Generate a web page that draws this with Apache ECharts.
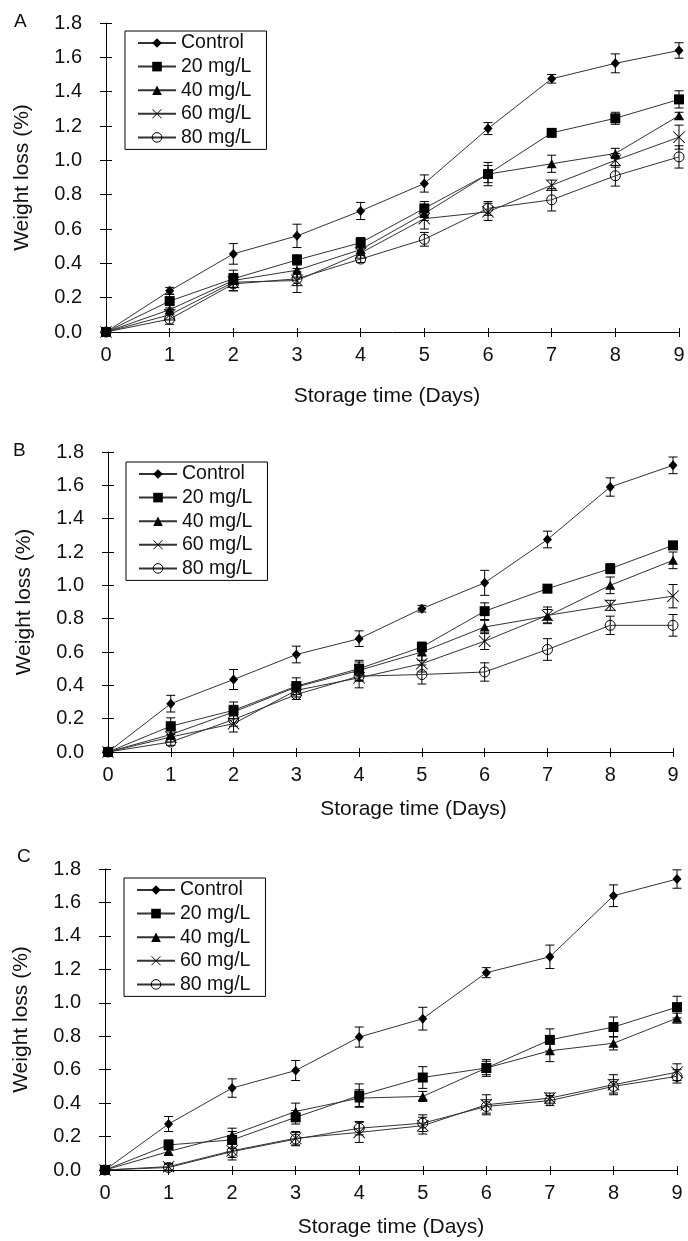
<!DOCTYPE html>
<html>
<head>
<meta charset="utf-8">
<title>Weight loss during storage</title>
<script src="https://cdn.jsdelivr.net/npm/echarts@6/dist/echarts.min.js"></script>
<style>
  html, body { margin: 0; padding: 0; background: #ffffff; }
  #chart { width: 688px; height: 1241px; }
</style>
</head>
<body>
<div id="chart"></div>
<script>
// Storage days (x axis) and treatment names
const days = [0, 1, 2, 3, 4, 5, 6, 7, 8, 9];
const seriesNames = ['Control', '20 mg/L', '40 mg/L', '60 mg/L', '80 mg/L'];
const panelLabels = ['A', 'B', 'C'];
const yMin = 0, yMax = 1.8, yStep = 0.2;

// Panel A — weight loss (%) and error (±)
const ctrlA = [0, 0.24, 0.455, 0.56, 0.705, 0.865, 1.185, 1.475, 1.565, 1.64];
const mg20A = [0, 0.18, 0.31, 0.42, 0.52, 0.72, 0.92, 1.16, 1.245, 1.355];
const mg40A = [0, 0.13, 0.30, 0.36, 0.48, 0.69, 0.92, 0.98, 1.04, 1.26];
const mg60A = [0, 0.10, 0.29, 0.30, 0.46, 0.66, 0.70, 0.855, 1.00, 1.135];
const mg80A = [0, 0.075, 0.28, 0.31, 0.425, 0.54, 0.72, 0.77, 0.91, 1.02];
const errCtrlA = [0, 0.02, 0.06, 0.068, 0.05, 0.05, 0.035, 0.025, 0.055, 0.045];
const err20A = [0, 0.04, 0.05, 0.03, 0.03, 0.04, 0.068, 0.02, 0.035, 0.05];
const err40A = [0, 0.03, 0.04, 0.04, 0.03, 0.04, 0.05, 0.05, 0.03, 0.02];
const err60A = [0, 0.03, 0.05, 0.07, 0.03, 0.06, 0.05, 0.03, 0.04, 0.07];
const err80A = [0, 0.03, 0.04, 0.04, 0.02, 0.04, 0.04, 0.065, 0.06, 0.065];

// Panel B
const ctrlB = [0, 0.29, 0.435, 0.585, 0.68, 0.86, 1.015, 1.275, 1.59, 1.72];
const mg20B = [0, 0.155, 0.25, 0.395, 0.50, 0.63, 0.845, 0.98, 1.10, 1.24];
const mg40B = [0, 0.105, 0.24, 0.39, 0.49, 0.60, 0.75, 0.815, 1.00, 1.15];
const mg60B = [0, 0.09, 0.17, 0.37, 0.445, 0.53, 0.665, 0.82, 0.88, 0.935];
const mg80B = [0, 0.06, 0.195, 0.345, 0.455, 0.465, 0.48, 0.615, 0.76, 0.76];
const errCtrlB = [0, 0.05, 0.06, 0.05, 0.047, 0.02, 0.075, 0.05, 0.055, 0.05];
const err20B = [0, 0.05, 0.05, 0.05, 0.04, 0.03, 0.05, 0.02, 0.03, 0.02];
const err40B = [0, 0.03, 0.04, 0.03, 0.06, 0.05, 0.04, 0.04, 0.05, 0.05];
const err60B = [0, 0.03, 0.05, 0.04, 0.06, 0.05, 0.05, 0.05, 0.03, 0.07];
const err80B = [0, 0.02, 0.04, 0.03, 0.03, 0.057, 0.055, 0.065, 0.055, 0.065];

// Panel C
const ctrlC = [0, 0.275, 0.49, 0.595, 0.795, 0.905, 1.18, 1.275, 1.64, 1.74];
const mg20C = [0, 0.15, 0.18, 0.315, 0.445, 0.553, 0.61, 0.778, 0.855, 0.974];
const mg40C = [0, 0.11, 0.21, 0.35, 0.43, 0.44, 0.61, 0.713, 0.758, 0.908];
const mg60C = [0, 0.02, 0.115, 0.19, 0.225, 0.265, 0.39, 0.43, 0.51, 0.585];
const mg80C = [0, 0.015, 0.11, 0.185, 0.25, 0.28, 0.38, 0.415, 0.50, 0.56];
const errCtrlC = [0, 0.045, 0.055, 0.06, 0.06, 0.068, 0.03, 0.07, 0.065, 0.055];
const err20C = [0, 0.03, 0.05, 0.04, 0.07, 0.065, 0.05, 0.066, 0.06, 0.065];
const err40C = [0, 0.02, 0.04, 0.05, 0.05, 0.03, 0.04, 0.065, 0.04, 0.03];
const err60C = [0, 0.02, 0.04, 0.04, 0.06, 0.05, 0.06, 0.03, 0.06, 0.05];
const err80C = [0, 0.02, 0.05, 0.04, 0.04, 0.05, 0.04, 0.03, 0.04, 0.04];

const FONT = '"Liberation Sans", Arial, sans-serif';
const TEXT = '#111';

// Layout of the three stacked panels
const panels = [
  { values: [ctrlA, mg20A, mg40A, mg60A, mg80A], errors: [errCtrlA, err20A, err40A, err60A, err80A],
    grid: { left: 106, top: 23, width: 573, height: 309 }, legend: { left: 125, top: 31 },
    label: { left: 14, top: 12 }, xNameGap: 54, xNamePad: [0, 11, 0, 0] },
  { values: [ctrlB, mg20B, mg40B, mg60B, mg80B], errors: [errCtrlB, err20B, err40B, err60B, err80B],
    grid: { left: 108, top: 452, width: 565, height: 300 }, legend: { left: 126, top: 462 },
    label: { left: 13, top: 441 }, xNameGap: 47, xNamePad: [0, 0, 0, 46] },
  { values: [ctrlC, mg20C, mg40C, mg60C, mg80C], errors: [errCtrlC, err20C, err40C, err60C, err80C],
    grid: { left: 105, top: 869, width: 572, height: 301 }, legend: { left: 124, top: 878 },
    label: { left: 17, top: 847 }, xNameGap: 47, xNamePad: [0, 0, 0, 0] }
];

// Marker style for each treatment
const X_PATH = 'path://M0,1L1,0L10,9L19,0L20,1L11,10L20,19L19,20L10,11L1,20L0,19L9,10Z';
const markers = [
  { symbol: 'diamond', size: [9, 10], fill: '#000', border: 0 },
  { symbol: 'rect', size: 10, fill: '#000', border: 0 },
  { symbol: 'triangle', size: [10, 9], fill: '#000', border: 0 },
  { symbol: X_PATH, size: 12, fill: '#000', border: 0 },
  { symbol: 'circle', size: 10, fill: 'rgba(0,0,0,0)', border: 1 }
];

function errorBarRenderer(params, api) {
  const x = api.value(0), y = api.value(1), e = api.value(2);
  if (!e) return null;
  const top = api.coord([x, y + e]);
  const bot = api.coord([x, y - e]);
  const cap = 4.5;
  const style = { stroke: '#000', lineWidth: 1 };
  return {
    type: 'group',
    children: [
      { type: 'line', shape: { x1: top[0], y1: top[1], x2: bot[0], y2: bot[1] }, style },
      { type: 'line', shape: { x1: top[0] - cap, y1: top[1], x2: top[0] + cap, y2: top[1] }, style },
      { type: 'line', shape: { x1: bot[0] - cap, y1: bot[1], x2: bot[0] + cap, y2: bot[1] }, style }
    ]
  };
}

const option = {
  animation: false,
  backgroundColor: '#ffffff',
  title: [], grid: [], xAxis: [], yAxis: [], legend: [], series: []
};

panels.forEach((pn, p) => {
  option.title.push({
    text: panelLabels[p], left: pn.label.left, top: pn.label.top, padding: 0,
    textStyle: { fontSize: 19, fontWeight: 'normal', color: TEXT, fontFamily: FONT }
  });
  option.grid.push(Object.assign({ containLabel: false, outerBoundsMode: 'none' }, pn.grid));

  const tickStyle = { color: '#000', width: 1 };
  // main x axis (labels, outer ticks) + overlay for inner ticks
  option.xAxis.push({
    gridIndex: p, type: 'value', position: 'bottom', min: 0, max: 9, interval: 1,
    name: 'Storage time (Days)', nameLocation: 'middle', nameGap: pn.xNameGap,
    nameTextStyle: { fontSize: 21, color: TEXT, fontFamily: FONT, padding: pn.xNamePad },
    axisLine: { show: true, onZero: false, lineStyle: { color: '#000', width: 1 } },
    axisTick: { show: true, length: 5, lineStyle: tickStyle },
    axisLabel: { fontSize: 20, color: TEXT, fontFamily: FONT, margin: 13 },
    splitLine: { show: false }
  });
  option.xAxis.push({
    gridIndex: p, type: 'value', position: 'bottom', min: 0, max: 9, interval: 1,
    axisLine: { show: false, onZero: false },
    axisTick: { show: true, inside: true, length: 4, lineStyle: tickStyle },
    axisLabel: { show: false }, splitLine: { show: false }
  });
  option.yAxis.push({
    gridIndex: p, type: 'value', position: 'left', min: yMin, max: yMax, interval: yStep,
    name: 'Weight loss (%)', nameLocation: 'middle', nameGap: 73,
    nameTextStyle: { fontSize: 21, color: TEXT, fontFamily: FONT },
    axisLine: { show: true, onZero: false, lineStyle: { color: '#000', width: 1 } },
    axisTick: { show: true, length: 6, lineStyle: tickStyle },
    axisLabel: { fontSize: 20, color: TEXT, fontFamily: FONT, margin: 24, formatter: v => v.toFixed(1) },
    splitLine: { show: false }
  });
  option.yAxis.push({
    gridIndex: p, type: 'value', position: 'left', min: yMin, max: yMax, interval: yStep,
    axisLine: { show: false, onZero: false },
    axisTick: { show: true, inside: true, length: 6, lineStyle: tickStyle },
    axisLabel: { show: false }, splitLine: { show: false }
  });

  option.legend.push({
    orient: 'vertical', left: pn.legend.left, top: pn.legend.top,
    itemWidth: 38, itemHeight: 12, itemGap: 3.6,
    padding: [2, 15, 2, 12],
    borderColor: '#000', borderWidth: 1, backgroundColor: '#fff',
    selectedMode: false,
    textStyle: { fontSize: 19.5, color: TEXT, fontFamily: FONT, lineHeight: 19 },
    data: seriesNames.map((n, k) => ({ name: n, itemStyle: { borderWidth: markers[k].border, borderColor: '#000' } }))
  });

  seriesNames.forEach((name, k) => {
    const vals = pn.values[k];
    const errs = pn.errors[k];
    const m = markers[k];
    option.series.push({
      type: 'custom', name: name + ' SD', xAxisIndex: 2 * p, yAxisIndex: 2 * p,
      renderItem: errorBarRenderer, silent: true, z: 2,
      encode: { x: 0, y: 1 },
      data: days.map((d, i) => [d, vals[i], errs[i]])
    });
    option.series.push({
      type: 'line', name, xAxisIndex: 2 * p, yAxisIndex: 2 * p,
      data: days.map((d, i) => [d, vals[i]]),
      symbol: m.symbol, symbolSize: m.size, showSymbol: true, showAllSymbol: true,
      lineStyle: { color: '#333', width: 1 },
      itemStyle: { color: m.fill, borderColor: '#000', borderWidth: m.border },
      emphasis: { disabled: true }, z: 3
    });
  });
});

const chart = echarts.init(document.getElementById('chart'), null, { renderer: 'canvas' });
chart.setOption(option);
</script>
</body>
</html>
